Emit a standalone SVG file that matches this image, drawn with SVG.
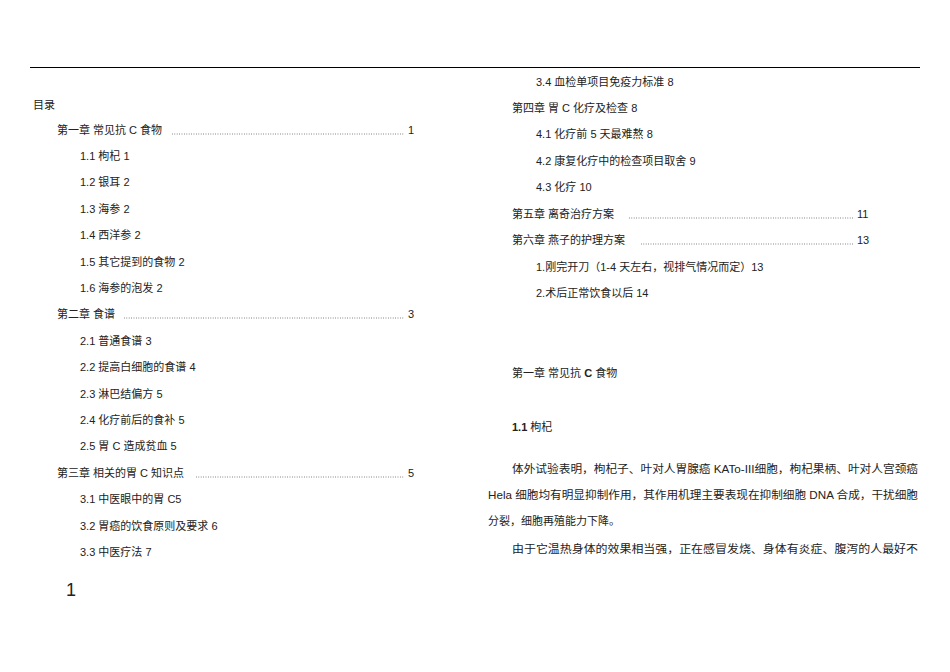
<svg xmlns="http://www.w3.org/2000/svg" width="950" height="672" viewBox="0 0 950 672">
<style>
text{font-family:"Liberation Sans","Noto Sans CJK SC",sans-serif;font-size:11px;fill:#222}
.d{stroke:#444;stroke-width:0.8;stroke-dasharray:0.8 1.6}
.b{font-weight:bold}
</style>
<rect width="950" height="672" fill="#fff"/>
<line x1="30" y1="67.5" x2="920" y2="67.5" stroke="#000" stroke-width="1"/>
<g id="left">
<text x="33" y="109">目录</text>
<text x="57" y="134">第一章  常见抗 C 食物</text><line class="d" x1="172" y1="134" x2="404" y2="134"/><text x="408" y="134">1</text>
<text x="80" y="160">1.1  枸杞 1</text>
<text x="80" y="186">1.2  银耳 2</text>
<text x="80" y="213">1.3  海参 2</text>
<text x="80" y="239">1.4  西洋参 2</text>
<text x="80" y="266">1.5  其它提到的食物 2</text>
<text x="80" y="292">1.6  海参的泡发 2</text>
<text x="57" y="318">第二章  食谱</text><line class="d" x1="124" y1="318" x2="404" y2="318"/><text x="408" y="318">3</text>
<text x="80" y="345">2.1  普通食谱 3</text>
<text x="80" y="371">2.2  提高白细胞的食谱 4</text>
<text x="80" y="398">2.3  淋巴结偏方 5</text>
<text x="80" y="424">2.4  化疗前后的食补 5</text>
<text x="80" y="450">2.5  胃 C 造成贫血 5</text>
<text x="57" y="477">第三章  相关的胃 C 知识点</text><line class="d" x1="196" y1="477" x2="404" y2="477"/><text x="408" y="477">5</text>
<text x="80" y="503">3.1  中医眼中的胃 C5</text>
<text x="80" y="530">3.2 胃癌的饮食原则及要求 6</text>
<text x="80" y="556">3.3 中医疗法 7</text>
<text x="66" y="596" style="font-size:18px">1</text>
</g>
<g id="right">
<text x="536" y="86">3.4  血检单项目免疫力标准 8</text>
<text x="512" y="112">第四章  胃 C 化疗及检查 8</text>
<text x="536" y="138">4.1  化疗前 5 天最难熬 8</text>
<text x="536" y="165">4.2  康复化疗中的检查项目取舍 9</text>
<text x="536" y="191">4.3  化疗 10</text>
<text x="512" y="218">第五章  离奇治疗方案</text><line class="d" x1="629" y1="218" x2="854" y2="218"/><text x="857" y="218">11</text>
<text x="512" y="244">第六章  燕子的护理方案</text><line class="d" x1="641" y1="244" x2="854" y2="244"/><text x="857" y="244">13</text>
<text x="536" y="271">1.刚完开刀（1-4 天左右，视排气情况而定）13</text>
<text x="536" y="297">2.术后正常饮食以后 14</text>
<text x="512" y="377">第一章  常见抗 <tspan class="b">C</tspan> 食物</text>
<text x="512" y="431"><tspan class="b">1.1</tspan>  枸杞</text>
<text x="512" y="473" textLength="406" lengthAdjust="spacingAndGlyphs">体外试验表明，枸杞子、叶对人胃腺癌 KATo-III细胞，枸杞果柄、叶对人宫颈癌</text>
<text x="488" y="499" textLength="430" lengthAdjust="spacingAndGlyphs">Hela 细胞均有明显抑制作用，其作用机理主要表现在抑制细胞 DNA 合成，干扰细胞</text>
<text x="488" y="525">分裂，细胞再殖能力下降。</text>
<text x="512" y="553" textLength="406" lengthAdjust="spacingAndGlyphs">由于它温热身体的效果相当强，正在感冒发烧、身体有炎症、腹泻的人最好不</text>
</g>
</svg>
